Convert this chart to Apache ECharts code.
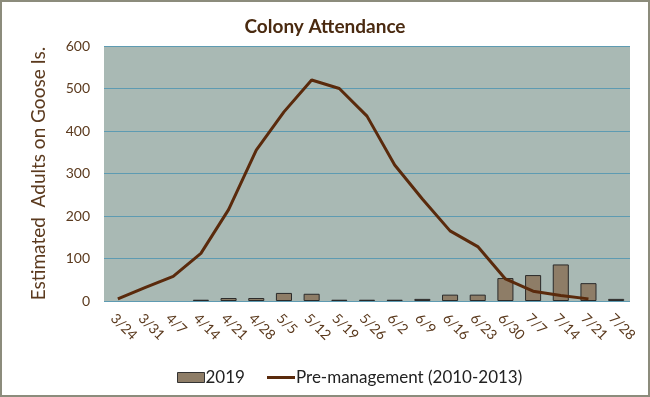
<!DOCTYPE html>
<html><head><meta charset="utf-8">
<script src="https://cdn.jsdelivr.net/npm/echarts@6/dist/echarts.min.js"></script>
<style>html,body{margin:0;padding:0;background:#fff}#c{width:650px;height:397px;box-sizing:border-box;border:2px solid #8c8c7c}</style>
</head><body><div id="c"></div>
<script>
const categories = ['3/24','3/31','4/7','4/14','4/21','4/28','5/5','5/12','5/19','5/26','6/2','6/9','6/16','6/23','6/30','7/7','7/14','7/21','7/28'];
const values2019 = [null,null,null,3,7,7,19,17,3,3,3,5,15,15,54,61,86,42,5];
const valuesPre = [5,32,58,112,215,355,445,520,500,435,320,240,165,128,52,23,13,5,null];
const yTicks = [0,100,200,300,400,500,600];

const chart = echarts.init(document.getElementById('c'));
const txt = '#5b3a1e';
const F = 'Lato';
chart.setOption({
  animation:false,
  title:{text:'Colony Attendance',left:'center',top:10,textStyle:{fontFamily:F,fontSize:19,fontWeight:'bold',color:'#4a2a10'}},
  grid:{left:102,right:18,top:44,bottom:94,backgroundColor:'#a9b9b4',show:true,borderWidth:0},
  legend:[
    {left:170,top:362,itemGap:20,itemWidth:27,itemHeight:10,textStyle:{fontFamily:F,fontSize:17,color:'#222',padding:[0,0,0,-4]},
     data:[{name:'2019',icon:'rect',itemStyle:{color:'#8e7d67',borderColor:'#333',borderWidth:1}}]},
    {left:260,top:362,itemWidth:28,itemHeight:3,textStyle:{fontFamily:F,fontSize:17,color:'#222',padding:[0,0,0,-4]},
     data:[{name:'Pre-management (2010-2013)',icon:'rect',itemStyle:{color:'#5a2a0c'}}]}
  ],
  xAxis:{type:'category',data:categories,
    axisLine:{show:false},axisTick:{show:false},
    axisLabel:{rotate:-45,interval:0,fontFamily:F,fontSize:14,color:txt,margin:10,align:'left',verticalAlign:'top'}},
  yAxis:{type:'value',min:0,max:600,interval:100,
    name:'Estimated  Adults on Goose Is.',nameLocation:'middle',nameGap:56,
    nameTextStyle:{fontFamily:F,fontSize:19,color:txt},
    axisLine:{show:false},axisTick:{show:false},
    axisLabel:{fontFamily:F,fontSize:14,color:txt,margin:14,formatter:v=>yTicks.includes(v)?String(v):''},
    splitLine:{lineStyle:{color:'#5e9bb2',width:1}}},
  series:[
    {name:'2019',type:'bar',data:values2019,barWidth:'58%',
      itemStyle:{color:'#8e7d67',borderColor:'#2a2a2a',borderWidth:1}},
    {name:'Pre-management (2010-2013)',type:'line',data:valuesPre,symbol:'none',
      lineStyle:{color:'#5a2a0c',width:3},itemStyle:{color:'#5a2a0c'}}
  ]
});
</script></body></html>
